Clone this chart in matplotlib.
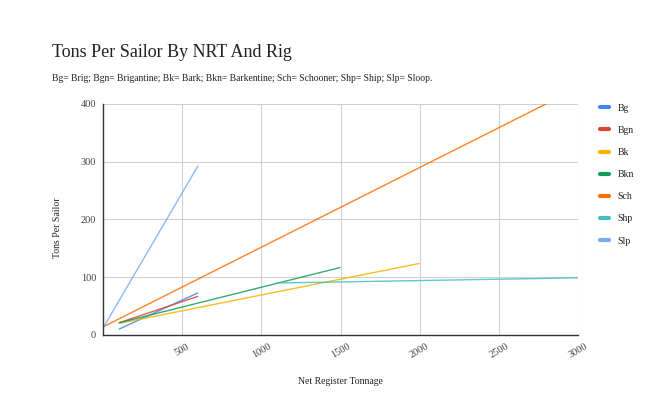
import matplotlib
matplotlib.use("Agg")
import matplotlib.pyplot as plt
from matplotlib.lines import Line2D

plt.rcParams['font.family'] = ['Liberation Serif', 'DejaVu Serif']

series_names = ["Bg", "Bgn", "Bk", "Bkn", "Sch", "Shp", "Slp"]
colors = ["#4285F4", "#DB4437", "#F4B400", "#0F9D58", "#FF6D00", "#46BDC6", "#7BAAF7"]
bg_x, bg_y = [100, 600], [10, 73]
bgn_x, bgn_y = [100, 600], [21, 67]
bk_x, bk_y = [100, 2000], [20, 124]
bkn_x, bkn_y = [100, 1500], [21, 117]
sch_x, sch_y = [0, 3000], [14, 428]
shp_x, shp_y = [1100, 3000], [90, 99]
slp_x, slp_y = [0, 600], [12, 293]
xs = [bg_x, bgn_x, bk_x, bkn_x, sch_x, shp_x, slp_x]
ys = [bg_y, bgn_y, bk_y, bkn_y, sch_y, shp_y, slp_y]

x_ticks = [500, 1000, 1500, 2000, 2500, 3000]
y_ticks = [0, 100, 200, 300, 400]

fig = plt.figure(figsize=(6.61, 3.96), dpi=100)
ax = fig.add_axes([103/661, 1-335/396, (578-103)/661, (335-104)/396])

for x, y, c in zip(xs, ys, colors):
    ax.plot(x, y, color=c, lw=1.0, alpha=0.85, solid_capstyle='butt')

ax.set_xlim(0, 3000)
ax.set_ylim(0, 400)
ax.set_xticks(x_ticks)
ax.set_yticks(y_ticks)
ax.set_xticklabels([str(t) for t in x_ticks], rotation=30, ha='center', fontsize=7.5, color='#444444')
ax.set_yticklabels([str(t) for t in y_ticks], fontsize=7.5, color='#444444')
ax.tick_params(length=0, pad=5)
ax.grid(True, color='#d0d0d0', lw=0.8)
ax.set_axisbelow(True)
for s in ['top', 'right']:
    ax.spines[s].set_visible(False)
for s in ['left', 'bottom']:
    ax.spines[s].set_color('#333333')
    ax.spines[s].set_linewidth(1.0)

fig.text(52/661, 1-57/396, "Tons Per Sailor By NRT And Rig", fontsize=13, color='#222222', va='baseline')
fig.text(52/661, 1-81/396, "Bg= Brig; Bgn= Brigantine; Bk= Bark; Bkn= Barkentine; Sch= Schooner; Shp= Ship; Slp= Sloop.",
         fontsize=6.9, color='#222222', va='baseline')
fig.text(58/661, 1-228/396, "Tons Per Sailor", rotation=90, fontsize=7, ha='center', va='center', color='#222222')
fig.text(340/661, 1-381/396, "Net Register Tonnage", fontsize=7, ha='center', va='center', color='#222222')

handles = [Line2D([0], [0], color=c, lw=3, solid_capstyle='round') for c in colors]
fig.legend(handles, series_names, loc='upper left', bbox_to_anchor=(591/661, 1-95/396),
           frameon=False, fontsize=7, handlelength=0.9, handletextpad=0.9, labelspacing=1.35,
           labelcolor='#222222')

fig.savefig("out.png", dpi=100)
